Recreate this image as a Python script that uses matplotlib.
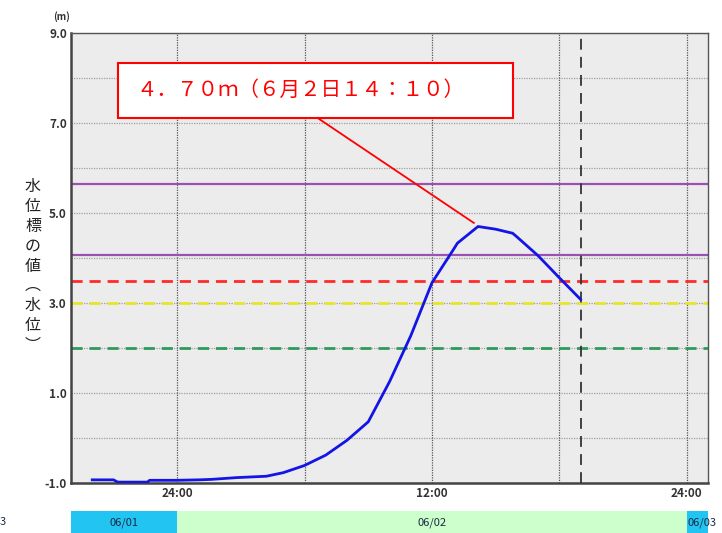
import matplotlib.pyplot as plt
from matplotlib.patches import Rectangle

plt.rcParams['font.family'] = ['Noto Sans CJK JP', 'DejaVu Sans']

# 時刻は 6/1 0:00 からの経過時間 [h]
times = [20.0, 21.0, 21.2, 22.0, 22.6, 22.7, 24.0, 25.0, 25.6, 26.8, 28.2, 29.0,
         30.0, 31.0, 32.0, 33.0, 34.0, 35.0, 36.0, 37.0, 37.2, 38.17, 39.0,
         39.8, 40.0, 41.0, 42.0, 43.0]
levels = [-0.93, -0.93, -0.98, -0.98, -0.98, -0.94, -0.94, -0.93, -0.92, -0.88,
          -0.85, -0.77, -0.61, -0.38, -0.05, 0.36, 1.25, 2.27, 3.45, 4.18, 4.33,
          4.70, 4.64, 4.55, 4.47, 4.05, 3.56, 3.08]

# 基準水位の線
ref_levels = [5.64, 4.07, 3.5, 3.0, 2.0]
ref_colors = ['#9b50b4', '#9b50b4', '#ff2a2a', '#e6e628', '#2e9a5c']
ref_styles = ['-', '-', '--', '--', '--']

now_time = 43.0
peak_text = '４．７０ｍ（６月２日１４：１０）'

y_ticks = [-1.0, 1.0, 3.0, 5.0, 7.0, 9.0]
x_ticks = [24, 36, 48]
x_tick_labels = ['24:00', '12:00', '24:00']

days = ['06/01', '06/02', '06/03']
day_start = [19.0, 24.0, 48.0]
day_end = [24.0, 48.0, 49.0]
day_colors = ['#22c4f2', '#ccffcc', '#22c4f2']

x_min, x_max = 19.0, 49.0

fig = plt.figure(figsize=(7.22, 5.33), dpi=100)
ax = fig.add_axes([71 / 722, 1 - 483 / 533, (708 - 71) / 722, 450 / 533])
ax.set_facecolor('#ececec')
ax.set_xlim(x_min, x_max)
ax.set_ylim(-1.0, 9.0)

# グリッド
for yv in range(-1, 10):
    ax.axhline(yv, color='#a0a0a0', lw=0.9, ls=(0, (1, 1)), zorder=1)
for xv in range(24, 49, 6):
    ax.axvline(xv, color='#555555', lw=0.9, ls=(0, (1, 1)), zorder=1)

for lv, c, s in zip(ref_levels, ref_colors, ref_styles):
    ax.axhline(lv, color=c, lw=1.6 if s == '-' else 2.0, ls=s if s == '-' else (0, (4, 2.5)), zorder=2)

ax.axvline(now_time, color='#333333', lw=1.3, ls=(0, (6, 4)), zorder=3)

ax.plot(times, levels, color='#1414e6', lw=2.0, zorder=4)

# 最高水位の注記
i_peak = levels.index(max(levels))
ax.add_patch(Rectangle((21.23, 7.11), 39.83 - 21.23, 8.33 - 7.11, facecolor='white',
                       edgecolor='#ff0000', lw=1.5, zorder=5))
ax.text(22.1, 7.73, peak_text, color='#ff0000', fontsize=14.8, va='center', ha='left', zorder=6)
ax.plot([30.62, times[i_peak] - 0.2], [7.11, levels[i_peak] + 0.08], color='#ff0000', lw=1.3, zorder=5)

ax.set_yticks(y_ticks)
ax.set_yticklabels([f'{v:.1f}' for v in y_ticks])
ax.set_xticks(x_ticks)
ax.set_xticklabels(x_tick_labels)
ax.tick_params(length=0, labelsize=8.5, colors='#333333', pad=3)
for lab in ax.get_xticklabels() + ax.get_yticklabels():
    lab.set_fontweight('bold')

for side in ['left', 'bottom']:
    ax.spines[side].set_color('#444444')
    ax.spines[side].set_linewidth(1.8)
for side in ['top', 'right']:
    ax.spines[side].set_color('#555555')
    ax.spines[side].set_linewidth(1.0)

fig.text(62 / 722, 1 - 17 / 533, '(m)', fontsize=7, color='#333333', ha='center', va='center',
         fontweight='bold')
fig.text(33 / 722, 1 - 266 / 533, '\n'.join('水位標の値︵水位︶'), fontsize=11.5,
         color='#222222', ha='center', va='center', linespacing=1.22)

# 日付バー
bar = fig.add_axes([71 / 722, 0, (708 - 71) / 722, 22 / 533])
bar.set_xlim(x_min, x_max)
bar.set_ylim(0, 1)
bar.axis('off')
for d, s, e, c in zip(days, day_start, day_end, day_colors):
    bar.axvspan(s, e, color=c, lw=0)
    if e - s > 2:
        bar.text((s + e) / 2, 0.45, d, ha='center', va='center', fontsize=8, color='#1a2a44')
    else:
        bar.text(s + 0.05, 0.45, d, ha='left', va='center', fontsize=8, color='#1a2a44', clip_on=False)
fig.text(0.0, 11 / 533, '3', fontsize=8, color='#1a2a44', ha='left', va='center')

fig.savefig('out.png', dpi=100)
